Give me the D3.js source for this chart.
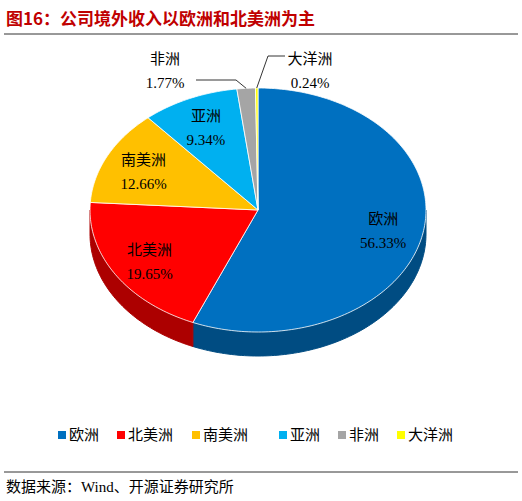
<!DOCTYPE html>
<html><head><meta charset="utf-8">
<script src="https://cdn.jsdelivr.net/npm/d3@7"></script>
<style>body{margin:0;background:#fff}</style>
</head><body>
<svg id="canvas" width="522" height="501"></svg>
<script>
// regions and their share of overseas revenue
var regions = ['欧洲', '北美洲', '南美洲', '亚洲', '非洲', '大洋洲']
var shares = [56.33, 19.65, 12.66, 9.34, 1.77, 0.24]
var colors = ['#0070C0', '#FF0000', '#FFC000', '#00B0F0', '#A5A5A5', '#FFFF00']

var svg = d3.select('#canvas')
var cx = 258, cy = 210, rx = 168, ry = 122, depth = 24
var font = "'Liberation Serif','Noto Sans CJK SC',serif"

// title and rule
svg.append('text').attr('x', 6).attr('y', 25).attr('fill', '#C00000')
  .attr('font-size', 17).attr('font-weight', 'bold')
  .attr('font-family', "'Noto Sans CJK SC',sans-serif")
  .text('图16：公司境外收入以欧洲和北美洲为主')
svg.append('line').attr('x1', 4).attr('x2', 518).attr('y1', 34).attr('y2', 34)
  .attr('stroke', '#333').attr('stroke-width', 1)

var arcs = d3.pie().sort(null).value(d => d)(shares)
function pt(a, dy) { return [cx + rx * Math.sin(a), cy - ry * Math.cos(a) + (dy || 0)] }
function arcPts(a0, a1, dy) {
  var n = Math.max(2, Math.ceil(Math.abs(a1 - a0) / 0.02)), out = []
  for (var i = 0; i <= n; i++) out.push(pt(a0 + (a1 - a0) * i / n, dy))
  return out
}
var line = d3.line()

// side walls (visible lower half only)
arcs.forEach((d, i) => {
  var a0 = Math.max(d.startAngle, Math.PI / 2), a1 = Math.min(d.endAngle, Math.PI * 1.5)
  if (a1 <= a0) return
  var p = arcPts(a0, a1, 0).concat(arcPts(a1, a0, depth))
  svg.append('path').attr('d', line(p) + 'Z')
    .attr('fill', d3.color(colors[i]).darker(1.1)).attr('stroke', d3.color(colors[i]).darker(1.1))
})
// top faces
arcs.forEach((d, i) => {
  var p = [[cx, cy]].concat(arcPts(d.startAngle, d.endAngle, 0))
  svg.append('path').attr('d', line(p) + 'Z').attr('fill', colors[i])
    .attr('stroke', '#fff').attr('stroke-width', 0.8)
})

// inner labels
arcs.slice(0, 4).forEach((d, i) => {
  var m = (d.startAngle + d.endAngle) / 2
  var x = cx + rx * 0.76 * Math.sin(m), y = cy - ry * 0.76 * Math.cos(m)
  var t = svg.append('text').attr('text-anchor', 'middle').attr('font-family', font)
    .attr('font-size', 15).attr('fill', '#000')
  t.append('tspan').attr('x', x).attr('y', y - 4).text(regions[i])
  t.append('tspan').attr('x', x).attr('y', y + 20).text(shares[i].toFixed(2) + '%')
})

// outer labels with leader lines
var outer = [{ i: 4, x: 165, y: 64, lx: 196, ly: 80 }, { i: 5, x: 310, y: 64, lx: 285, ly: 56 }]
outer.forEach(o => {
  var d = arcs[o.i], m = (d.startAngle + d.endAngle) / 2
  var e = pt(m, 0)
  svg.append('polyline').attr('fill', 'none').attr('stroke', '#000').attr('stroke-width', 0.8)
    .attr('points', [[o.lx, o.ly], [o.i === 4 ? 236 : 268, o.ly], e].map(p => p.join(',')).join(' '))
  var t = svg.append('text').attr('text-anchor', 'middle').attr('font-family', font)
    .attr('font-size', 15).attr('fill', '#000')
  t.append('tspan').attr('x', o.x).attr('y', o.y).text(regions[o.i])
  t.append('tspan').attr('x', o.x).attr('y', o.y + 24).text(shares[o.i].toFixed(2) + '%')
})

// legend
var lx = [58, 117, 192, 279, 338, 397]
regions.forEach((r, i) => {
  svg.append('rect').attr('x', lx[i]).attr('y', 431).attr('width', 8).attr('height', 8).attr('fill', colors[i])
  svg.append('text').attr('x', lx[i] + 11).attr('y', 440).attr('font-size', 15)
    .attr('font-family', "'Noto Sans CJK SC',sans-serif").text(r)
})

svg.append('line').attr('x1', 4).attr('x2', 518).attr('y1', 472).attr('y2', 472)
  .attr('stroke', '#333').attr('stroke-width', 1)
svg.append('text').attr('x', 6).attr('y', 492).attr('font-size', 15).attr('font-family', font)
  .text('数据来源：Wind、开源证券研究所')
</script>
</body></html>
